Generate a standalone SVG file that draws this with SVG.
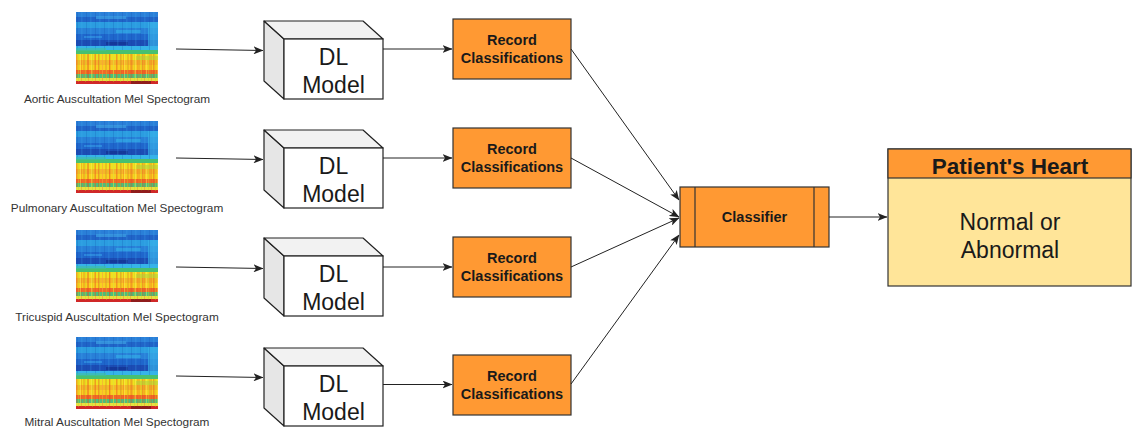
<svg xmlns="http://www.w3.org/2000/svg" width="1133" height="431" viewBox="0 0 1133 431">
<style>
text{font-family:"Liberation Sans",Arial,sans-serif;fill:#1a1a1a}
.lbl{font-size:11.8px;fill:#333;text-anchor:middle}
.dl{font-size:23px;text-anchor:middle}
.rc{font-size:14.5px;font-weight:bold;text-anchor:middle}
.ttl{font-size:22.5px;font-weight:bold;text-anchor:middle}
.edge{stroke:#222;stroke-width:1;fill:none;marker-end:url(#arr)}
.box{fill:#FF9933;stroke:#333;stroke-width:1.2}
.cf{fill:#fff;stroke:#222;stroke-width:1.2}
.cl{fill:#e6e6e6;stroke:#222;stroke-width:1.2;stroke-linejoin:round}
.ct{fill:#f2f2f2;stroke:#222;stroke-width:1.2;stroke-linejoin:round}
</style>
<defs>
<marker id="arr" markerWidth="10" markerHeight="8" refX="9.5" refY="4" orient="auto" markerUnits="userSpaceOnUse"><path d="M0,0 L10,4 L0,8 L2.5,4 z" fill="#222"/></marker>
<pattern id="vs" width="11" height="2" patternUnits="userSpaceOnUse">
<rect x="0" width="1.5" height="2" fill="#e04020" opacity=".35"/>
<rect x="4" width="1" height="2" fill="#fff060" opacity=".4"/>
<rect x="7" width="2" height="2" fill="#e87020" opacity=".3"/>
</pattern>
<pattern id="vs2" width="7" height="2" patternUnits="userSpaceOnUse">
<rect x="2" width="1" height="2" fill="#c8d020" opacity=".35"/>
<rect x="5" width="1" height="2" fill="#f04018" opacity=".25"/>
</pattern>
<pattern id="vsb" width="9" height="2" patternUnits="userSpaceOnUse">
<rect x="1" width="1" height="2" fill="#1040a0" opacity=".2"/>
<rect x="5" width="1.5" height="2" fill="#40b0f0" opacity=".2"/>
</pattern>
<g id="spec">
<rect x="0" y="0" width="82" height="5" fill="#2a7fd8"/>
<rect x="0" y="5" width="82" height="5" fill="#2064c8"/>
<rect x="0" y="10" width="82" height="6" fill="#2b9de0"/>
<rect x="0" y="16" width="82" height="6" fill="#2880d8"/>
<rect x="0" y="22" width="82" height="6" fill="#1f66cc"/>
<rect x="0" y="28" width="82" height="6" fill="#1c4cb4"/>
<rect x="0" y="34" width="82" height="4" fill="#35b4e8"/>
<rect x="0" y="38" width="82" height="4" fill="#48c070"/>
<rect x="0" y="42" width="82" height="6" fill="#f0e020"/>
<rect x="0" y="48" width="82" height="5" fill="#f4b828"/>
<rect x="0" y="53" width="82" height="5" fill="#f8d020"/>
<rect x="0" y="58" width="82" height="4" fill="#f06a28"/>
<rect x="0" y="62" width="82" height="4" fill="#4cc07a"/>
<rect x="0" y="66" width="82" height="3" fill="#e8e040"/>
<rect x="0" y="69" width="82" height="3" fill="#d02828"/>
<rect x="72" y="10" width="10" height="26" fill="#38b0e8" opacity=".7"/>
<rect x="20" y="4" width="30" height="3" fill="#3a9ae0" opacity=".8"/>
<rect x="40" y="18" width="25" height="3" fill="#2fa4e4" opacity=".8"/>
<rect x="8" y="24" width="18" height="2" fill="#3090e0" opacity=".8"/>
<rect x="30" y="30" width="22" height="3" fill="#102c88" opacity=".6"/>
<rect x="0" y="0" width="82" height="38" fill="url(#vsb)"/>
<rect x="0" y="42" width="82" height="24" fill="url(#vs)"/>
<rect x="0" y="42" width="82" height="28" fill="url(#vs2)"/>
<rect x="0" y="36" width="30" height="3" fill="#40c0a0" opacity=".6"/>
<rect x="60" y="44" width="22" height="4" fill="#a8d040" opacity=".5"/>
<rect x="55" y="69" width="20" height="3" fill="#501010" opacity=".5"/>
</g>
</defs>
<rect width="1133" height="431" fill="#fff"/>

<g id="spec1"><use href="#spec" x="76" y="12"/><text class="lbl" x="117" y="103">Aortic Auscultation Mel Spectogram</text></g>
<g id="spec2"><use href="#spec" x="76" y="121"/><text class="lbl" x="117" y="212">Pulmonary Auscultation Mel Spectogram</text></g>
<g id="spec3"><use href="#spec" x="76" y="230"/><text class="lbl" x="117" y="321">Tricuspid Auscultation Mel Spectogram</text></g>
<g id="spec4"><use href="#spec" x="76" y="337"/><text class="lbl" x="117" y="426">Mitral Auscultation Mel Spectogram</text></g>

<g id="dl1">
<polygon class="cl" points="264,21 284,39 284,99 264,81"/>
<polygon class="ct" points="264,21 363,21 383,39 284,39"/>
<rect class="cf" x="284" y="39" width="99" height="60"/>
<text class="dl" x="333.5" y="65">DL</text><text class="dl" x="333.5" y="93">Model</text>
</g>
<g id="dl2" transform="translate(0,109)">
<polygon class="cl" points="264,21 284,39 284,99 264,81"/>
<polygon class="ct" points="264,21 363,21 383,39 284,39"/>
<rect class="cf" x="284" y="39" width="99" height="60"/>
<text class="dl" x="333.5" y="65">DL</text><text class="dl" x="333.5" y="93">Model</text>
</g>
<g id="dl3" transform="translate(0,217)">
<polygon class="cl" points="264,21 284,39 284,99 264,81"/>
<polygon class="ct" points="264,21 363,21 383,39 284,39"/>
<rect class="cf" x="284" y="39" width="99" height="60"/>
<text class="dl" x="333.5" y="65">DL</text><text class="dl" x="333.5" y="93">Model</text>
</g>
<g id="dl4" transform="translate(0,327)">
<polygon class="cl" points="264,21 284,39 284,99 264,81"/>
<polygon class="ct" points="264,21 363,21 383,39 284,39"/>
<rect class="cf" x="284" y="39" width="99" height="60"/>
<text class="dl" x="333.5" y="65">DL</text><text class="dl" x="333.5" y="93">Model</text>
</g>

<g id="rec1"><rect class="box" x="453" y="19" width="118" height="60"/><text class="rc" x="512" y="45">Record</text><text class="rc" x="512" y="63">Classifications</text></g>
<g id="rec2" transform="translate(0,109)"><rect class="box" x="453" y="19" width="118" height="60"/><text class="rc" x="512" y="45">Record</text><text class="rc" x="512" y="63">Classifications</text></g>
<g id="rec3" transform="translate(0,218)"><rect class="box" x="453" y="19" width="118" height="60"/><text class="rc" x="512" y="45">Record</text><text class="rc" x="512" y="63">Classifications</text></g>
<g id="rec4" transform="translate(0,336)"><rect class="box" x="453" y="19" width="118" height="60"/><text class="rc" x="512" y="45">Record</text><text class="rc" x="512" y="63">Classifications</text></g>

<g id="classifier">
<rect class="box" x="680" y="187" width="149" height="60"/>
<line x1="695" y1="187" x2="695" y2="247" stroke="#333" stroke-width="1.2"/>
<line x1="814" y1="187" x2="814" y2="247" stroke="#333" stroke-width="1.2"/>
<text class="rc" x="754.5" y="222">Classifier</text>
</g>

<g id="patient">
<rect x="888" y="149" width="243" height="137" fill="#FFE599" stroke="#333" stroke-width="1.2"/>
<rect x="888" y="149" width="243" height="29" fill="#FF9933" stroke="#333" stroke-width="1.2"/>
<text class="ttl" x="1010" y="174">Patient's Heart</text>
<text class="dl" x="1010" y="230">Normal or</text>
<text class="dl" x="1010" y="258">Abnormal</text>
</g>

<g id="connectors">
<path class="edge" d="M176,49 L263,50.5"/>
<path class="edge" d="M176,158 L263,159.5"/>
<path class="edge" d="M176,267 L263,268.5"/>
<path class="edge" d="M176,376 L263,377.5"/>
<path class="edge" d="M383,49 L452,49"/>
<path class="edge" d="M383,158 L452,158"/>
<path class="edge" d="M383,267 L452,267"/>
<path class="edge" d="M383,384.5 L452,384.5"/>
<path class="edge" d="M571,49 L679,200"/>
<path class="edge" d="M571,158 L679,217"/>
<path class="edge" d="M571,267 L679,218"/>
<path class="edge" d="M571,384 L679,235"/>
<path class="edge" d="M829,217 L887,217"/>
</g>
</svg>
